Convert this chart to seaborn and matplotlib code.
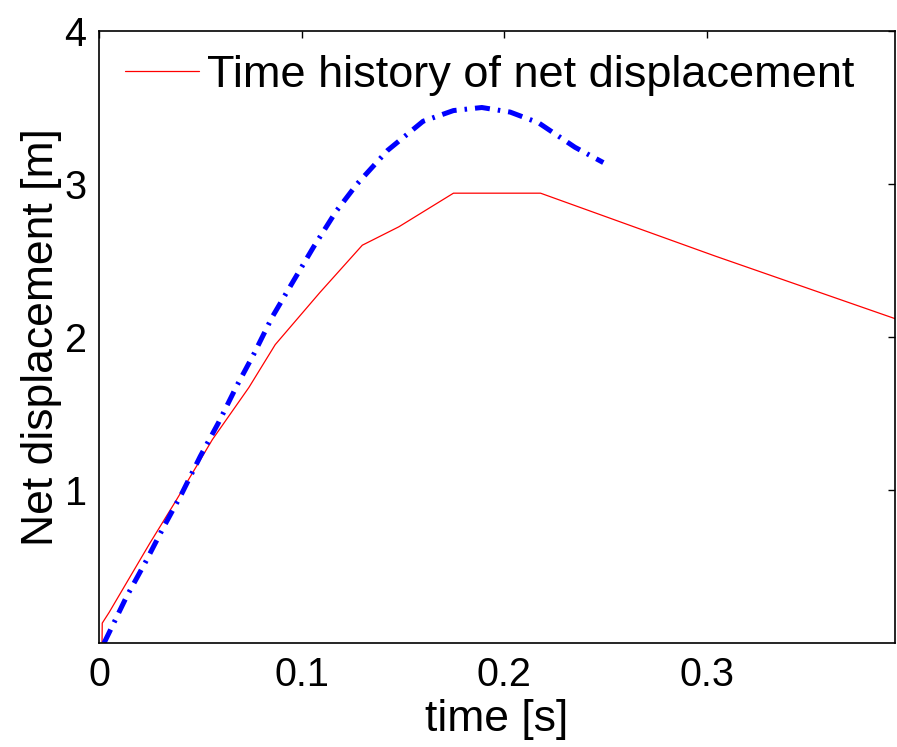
import matplotlib
matplotlib.use("Agg")
import matplotlib.pyplot as plt
import seaborn as sns
import pandas as pd

# red curve: time history of net displacement
red_time = [0.0015, 0.0016, 0.005, 0.025, 0.038, 0.056, 0.074, 0.087,
            0.109, 0.130, 0.148, 0.175, 0.218, 0.304, 0.393]
red_disp = [0.0, 0.13, 0.20, 0.65, 0.93, 1.33, 1.67, 1.95,
            2.29, 2.60, 2.72, 2.94, 2.94, 2.53, 2.12]

# blue dash-dot curve
blue_time = [0.0025, 0.0049, 0.0135, 0.023, 0.032, 0.041, 0.050, 0.059,
             0.068, 0.0765, 0.0855, 0.0957, 0.106, 0.117, 0.1274, 0.1425,
             0.160, 0.175, 0.189, 0.203, 0.217, 0.235, 0.249]
blue_disp = [0.0, 0.065, 0.30, 0.53, 0.76, 0.98, 1.22, 1.44,
             1.68, 1.89, 2.13, 2.36, 2.59, 2.82, 3.00, 3.22,
             3.41, 3.48, 3.50, 3.47, 3.40, 3.24, 3.14]

x_ticks = [0, 0.1, 0.2, 0.3]
x_tick_labels = ["0", "0.1", "0.2", "0.3"]
y_ticks = [1, 2, 3, 4]

red_df = pd.DataFrame({"time": red_time, "disp": red_disp})
blue_df = pd.DataFrame({"time": blue_time, "disp": blue_disp})

sns.set_style("white")
plt.rcParams["font.family"] = ["Liberation Sans", "DejaVu Sans"]
plt.rcParams["text.color"] = "black"
plt.rcParams["axes.labelcolor"] = "black"

fig = plt.figure(figsize=(8.97, 7.47), dpi=100)
ax = fig.add_axes([99 / 897, 104 / 747, 796 / 897, 612 / 747])

sns.lineplot(data=red_df, x="time", y="disp", ax=ax, color="#ff0000",
             linewidth=0.9, estimator=None, sort=False,
             label="Time history of net displacement")
sns.lineplot(data=blue_df, x="time", y="disp", ax=ax, color="#0000ff",
             linewidth=3.6, estimator=None, sort=False,
             linestyle=(0, (3.0, 1.6, 0.5, 1.6)))

ax.set_xlim(0, 0.393)
ax.set_ylim(0, 4)
ax.set_xticks(x_ticks)
ax.set_xticklabels(x_tick_labels)
ax.set_yticks(y_ticks)
ax.tick_params(direction="in", length=5, width=1, top=True, right=True,
               labelsize=28.5, colors="black", pad=9)
for s in ax.spines.values():
    s.set_color("black")
    s.set_linewidth(1.2)

ax.set_xlabel("time [s]", fontsize=32, labelpad=4)
ax.set_ylabel("Net displacement [m]", fontsize=32, labelpad=2)

leg = ax.legend(loc="center left", bbox_to_anchor=(26 / 796, 1 - 44 / 612),
                frameon=False, fontsize=32.5, handlelength=1.65,
                handletextpad=0.16, borderpad=0, borderaxespad=0)
for t in leg.get_texts():
    t.set_color("black")

fig.savefig("out.png", dpi=100)
